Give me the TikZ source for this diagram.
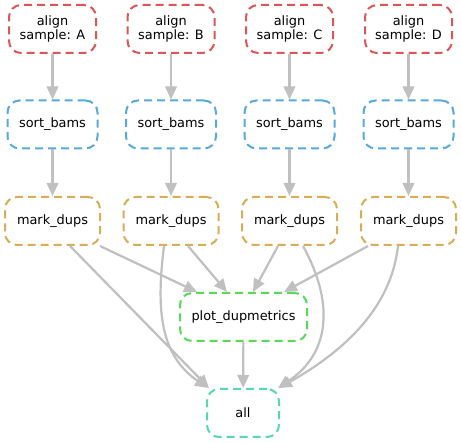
\documentclass[tikz,border=0pt]{standalone}
\usepackage{fontspec}
\setmainfont{DejaVu Sans}
\usetikzlibrary{arrows.meta,calc}
\definecolor{cred}{RGB}{217,87,87}
\definecolor{cblue}{RGB}{87,170,217}
\definecolor{cgold}{RGB}{217,173,87}
\definecolor{cgreen}{RGB}{89,217,87}
\definecolor{cteal}{RGB}{87,217,170}
\definecolor{egray}{RGB}{192,192,192}
\begin{document}
\begin{tikzpicture}[x=1pt,y=-1pt,
  box/.style={draw, line width=2pt, dash pattern=on 8pt off 5pt, rounded corners=12pt,
    minimum height=48pt, inner sep=0pt, align=center,
    font=\fontsize{12.9}{14.5}\selectfont},
  alignbox/.style={box, draw=cred, minimum width=87pt},
  sortbox/.style={box, draw=cblue, minimum width=90pt},
  markbox/.style={box, draw=cgold, minimum width=95pt},
  plotbox/.style={box, draw=cgreen, minimum width=127pt},
  allbox/.style={box, draw=cteal, minimum width=72pt},
  edge/.style={draw=egray, line width=2.2pt, -{Triangle[length=13pt,width=11.5pt]}}]
\useasboundingbox (0,0) rectangle (461,443);
\fill[white] (0,0) rectangle (461,443);

\node[alignbox] (aA) at (52.5,29) {align\\sample: A};
\node[alignbox] (aB) at (171,29) {align\\sample: B};
\node[alignbox] (aC) at (289.5,29) {align\\sample: C};
\node[alignbox] (aD) at (408.5,29) {align\\sample: D};

\node[sortbox] (sA) at (52.5,124.5) {sort\_bams};
\node[sortbox] (sB) at (171,124.5) {sort\_bams};
\node[sortbox] (sC) at (289.5,124.5) {sort\_bams};
\node[sortbox] (sD) at (408.5,124.5) {sort\_bams};

\node[markbox] (mA) at (52.5,221) {mark\_dups};
\node[markbox] (mB) at (171,221) {mark\_dups};
\node[markbox] (mC) at (289.5,221) {mark\_dups};
\node[markbox] (mD) at (408.5,221) {mark\_dups};

\node[plotbox] (plot) at (243.5,317) {plot\_dupmetrics};
\node[allbox] (all) at (243,413) {all};

\foreach \c in {A,B,C,D}{
  \draw[edge] (a\c) -- (s\c);
  \draw[edge] (s\c) -- (m\c);
}

\draw[edge] ([xshift=47.5pt]mA.south) -- ([xshift=-46.5pt]plot.north);
\draw[edge] ([xshift=17.5pt]mA.south) -- ([xshift=-34pt]all.north);
\draw[edge] ([xshift=17pt]mB.south) -- ([xshift=-16.5pt]plot.north);
\draw[edge] ([xshift=-7pt]mB.south) .. controls (156,310) and (160,355) .. ([xshift=-35pt]all.north);
\draw[edge] ([xshift=-11.5pt]mC.south) -- ([xshift=9.5pt]plot.north);
\draw[edge] ([xshift=13.5pt]mC.south) .. controls (333,300) and (332,352) .. ([xshift=35pt]all.north);
\draw[edge] ([xshift=-40.5pt]mD.south) -- ([xshift=40.5pt]plot.north);
\draw[edge] ([xshift=-10.5pt]mD.south) .. controls (392,300) and (355,345) .. ([xshift=36pt]all.north);
\draw[edge] (plot) -- (all);
\end{tikzpicture}
\end{document}
